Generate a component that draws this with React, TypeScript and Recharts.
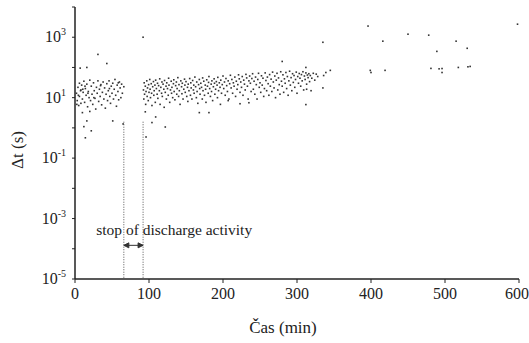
import {
  ScatterChart, Scatter, XAxis, YAxis, ReferenceLine, ReferenceDot, Label
} from "recharts";

// [time (min), Δt (s)]
const beforeStop: [number, number][] = [
  [2,14],[2.5,6],[3,8],[4,22],[4.5,12],[5,5.5],[6,30],[6,11],[7,95],[7.5,17],[8,18],[8,6.5],
  [9,26],[10,9],[10,3.2],[10.5,19],[11,15],[12,35],[12,1.1],[13,7],[13.5,24],[14,20],[14,0.47],
  [15,12],[16,28],[16,1.7],[16,100],[17,5],[17.5,14],[18,16],[19,10],[20,38],[20,3.5],[21,8],
  [22,0.8],[22,24],[23,13],[24,6],[25,31],[25.5,10],[26,17],[27,9.5],[28,4.2],[29,22],[30,14],
  [31,270],[31,36],[32,7.5],[33,19],[34,11],[34.5,25],[35,27],[36,5.8],[37,15],[38,33],[39,9],
  [40,21],[41,4.5],[42,13],[43,135],[43,29],[44,8],[45,17],[46,36],[46.5,20],[47,11],[48,6.5],
  [49,24],[50,14],[51,1.7],[51,30],[52,9],[53,19],[54,40],[55,12],[56,5.2],[57,26],[58,16],
  [58.5,31],[59,8.5],[60,33],[61,21],[62,10],[63,28],[64,14],[65,1.35],[66,23]
];

const afterStop: [number, number][] = [
  [92.5,18],[93,9],[93.5,31],[94,13],[95,24],[95.5,6],[96,16],[97,36],[97.5,11],[98,21],[99,8],
  [99.5,27],[100,15],[101,40],[101.5,19],[102,10],[103,29],[103.5,14],[104,5.5],[105,23],
  [106,34],[106.5,12],[107,17],[108,26],[108.5,7],[109,38],[110,20],[111,13],[111.5,30],
  [112,9.5],[113,25],[114,17],[114.5,42],[115,6],[116,22],[117,14],[117.5,33],[118,11],[119,28],
  [120,19],[120.5,4.8],[121,37],[122,15],[123,24],[123.5,9],[124,31],[125,20],[126,12],
  [126.5,44],[127,26],[128,7],[129,18],[130,35],[130.5,14],[131,22],[132,10],[133,29],
  [133.5,39],[134,16],[135,8.5],[136,25],[137,33],[137.5,13],[138,20],[139,46],[140,11],
  [140.5,27],[141,17],[142,6],[143,36],[144,23],[144.5,13.5],[145,30],[146,9],[147,19],[148,41],
  [148.5,26],[149,15],[150,34],[151,11],[152,22],[152.5,7.5],[153,28],[154,17],[155,43],
  [156,12],[156.5,31],[157,21],[158,9],[159,37],[160,18],[160.5,26],[161,14],[162,48],[163,23],
  [164,10],[164.5,33],[165,16],[166,6.5],[167,27],[168,40],[168.5,20],[169,13],[170,30],
  [171,22],[172,9],[172.5,45],[173,17],[174,35],[175,12],[176,26],[176.5,19],[177,7],[178,39],
  [179,24],[180,14],[180.5,32],[181,50],[182,20],[183,11],[184,28],[184.5,16],[185,36],[186,8],
  [187,23],[188,42],[188.5,30],[189,13],[190,19],[191,34],[192,26],[192.5,10],[193,47],[194,17],
  [195,31],[196,22],[196.5,6],[197,38],[198,14],[199,27],[200,52],[201,20],[202,33],[203,12],
  [204,43],[205,25],[206,16],[207,36],[208,9],[209,29],[210,55],[211,21],[212,40],[213,14],
  [214,31],[215,24],[216,48],[217,11],[218,35],[219,19],[220,27],[221,57],[222,42],[223,15],
  [224,33],[225,22],[226,50],[227,12],[228,38],[229,28],[230,18],[231,59],[232,45],[233,24],
  [234,9],[235,36],[236,52],[237,30],[238,16],[239,43],
  [240,62],[241,19],[242,35],[243,13],[244,48],[245,27],[246,9],[247,40],[248,64],[249,22],
  [250,31],[251,15],[252,53],[253,26],[254,44],[255,11],[256,20],[257,66],[258,37],[259,17],
  [260,48],[261,29],[262,12],[263,58],[264,24],[265,41],[266,16],[267,70],[268,33],[269,21],
  [270,52],[271,10],[272,38],[273,64],[274,18],[275,45],[276,27],[277,13],[278,72],[279,35],
  [280,24],[281,57],[282,15],[283,42],[284,30],[285,68],[286,20],[287,50],[288,12],[289,36],
  [290,75],[291,26],[292,46],[293,17],[294,62],[295,32],[296,54],[297,22],[298,40],[299,70],
  [300,14],[301,50],[302,30],[303,63],[304,44],[305,24],[306,58],[307,36],[308,72],[309,18],
  [310,52],[311,40],[312,66],[313,28],[314,56],[315,46],[316,62],[317,34],[318,54],[320,44],
  [322,64],[324,38],[326,60],[328,50]
];

const outliers: [number, number][] = [
  [92,1000],[96,0.5],[95,3.4],[104,1.5],[109,2.3],[122,1.07],[168,3.2],[181,3.2],[207,8],
  [223,6.3],[235,6.8],[280,158],[312,100],[312,5.9],[313,19],[319,17],[335,680],[335,21],
  [336,54],[339,68],[345,80]
];

const lateSparse: [number, number][] = [
  [396,2340],[450,1260],[478,1170],[416,740],[515,740],[530,430],[489,340],[598,2700],
  [399,80],[400,68],[419,80],[481,93],[492,90],[496,92],[496,68],[518,100],[534,108],[531,105]
];

const xTicks = [0, 100, 200, 300, 400, 500, 600];
const yTicks = [1e-5, 1e-4, 1e-3, 1e-2, 1e-1, 1, 10, 100, 1e3, 1e4];

const stopStart = 66;
const stopEnd = 92;

const toRows = (pts: [number, number][]) => pts.map(([t, dt]) => ({ t, dt }));

const font = "'Liberation Serif', 'Times New Roman', serif";

const Dot = (p: any) => (
  <rect x={p.cx - 0.8} y={p.cy - 0.8} width={1.6} height={1.6} fill="#333" />
);

const YTick = (p: any) => {
  const exp = Math.round(Math.log10(p.payload.value));
  if (Math.abs(exp) % 2 !== 1) return null;
  return (
    <text x={p.x - 4} y={p.y + 5} textAnchor="end" fontFamily={font} fontSize={16} fill="#222">
      10<tspan dy={-7} fontSize={10}>{exp}</tspan>
    </text>
  );
};

const XTick = (p: any) => (
  <text x={p.x} y={p.y + 14} textAnchor="middle" fontFamily={font} fontSize={16} fill="#222">
    {p.payload.value}
  </text>
);

const Arrow = (p: any) => {
  const { x1, y1, x2, y2 } = p;
  return (
    <g stroke="#333" fill="#333">
      <line x1={x1} y1={y1} x2={x2} y2={y2} strokeWidth={1} />
      <path d={`M${x1},${y1} l5,-2.5 l0,5 z`} />
      <path d={`M${x2},${y2} l-5,-2.5 l0,5 z`} />
    </g>
  );
};

export default function App() {
  return (
    <div style={{ position: "absolute", left: 0, top: 0, width: 529, height: 343, background: "#fff" }}>
      <ScatterChart width={529} height={343} margin={{ top: 7, right: 10, left: 15, bottom: 4 }}>
        <XAxis
          type="number"
          dataKey="t"
          domain={[0, 600]}
          ticks={xTicks}
          tick={<XTick />}
          axisLine={{ stroke: "#222", strokeWidth: 1.5 }}
          tickLine={{ stroke: "#222" }}
          tickSize={4}
          height={60}
        >
          <Label
            content={() => (
              <text x={283} y={333} textAnchor="middle" fontFamily={font} fontSize={17} fill="#222">
                Čas (min)
              </text>
            )}
          />
        </XAxis>
        <YAxis
          type="number"
          dataKey="dt"
          scale="log"
          domain={[1e-5, 1e4]}
          allowDataOverflow
          ticks={yTicks}
          tick={<YTick />}
          axisLine={{ stroke: "#222", strokeWidth: 1.5 }}
          tickLine={{ stroke: "#222" }}
          tickSize={3}
          width={60}
        >
          <Label
            content={() => (
              <text x={23} y={150} transform="rotate(-90 23 150)" textAnchor="middle"
                fontFamily={font} fontSize={17} fill="#222">
                Δt (s)
              </text>
            )}
          />
        </YAxis>
        <ReferenceLine
          segment={[{ x: stopStart, y: 1.6 }, { x: stopStart, y: 1e-5 }]}
          stroke="#555" strokeDasharray="1 1.5" strokeWidth={1}
        />
        <ReferenceLine
          segment={[{ x: stopEnd, y: 1.6 }, { x: stopEnd, y: 1e-5 }]}
          stroke="#555" strokeDasharray="1 1.5" strokeWidth={1}
        />
        <ReferenceLine
          segment={[{ x: stopStart, y: 1.3e-4 }, { x: stopEnd, y: 1.3e-4 }]}
          shape={<Arrow />}
        />
        <ReferenceDot
          x={134} y={4.3e-4} r={0} fill="none" stroke="none"
          label={{ value: "stop of discharge activity", position: "center", fontFamily: font, fontSize: 15.5, fill: "#222" }}
        />
        <Scatter data={toRows(beforeStop)} shape={Dot} isAnimationActive={false} />
        <Scatter data={toRows(afterStop)} shape={Dot} isAnimationActive={false} />
        <Scatter data={toRows(outliers)} shape={Dot} isAnimationActive={false} />
        <Scatter data={toRows(lateSparse)} shape={Dot} isAnimationActive={false} />
      </ScatterChart>
    </div>
  );
}
